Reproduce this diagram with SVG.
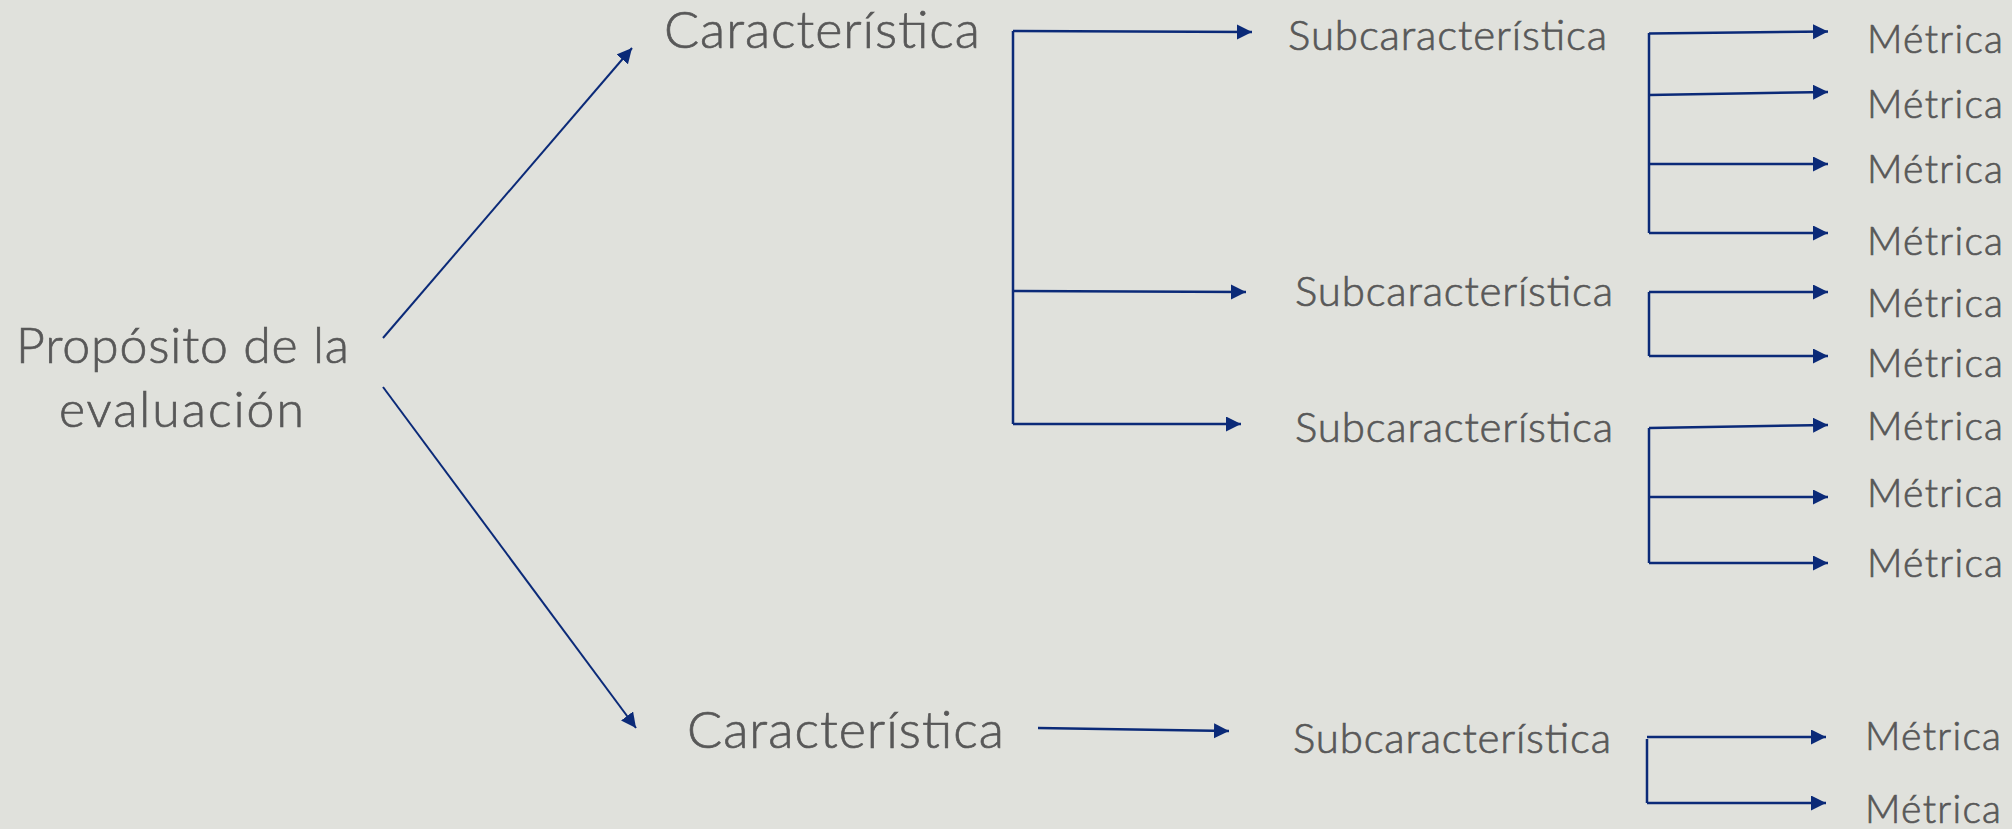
<svg xmlns="http://www.w3.org/2000/svg" width="2012" height="829" viewBox="0 0 2012 829">
<defs>
<style>
text{font-family:Lato,"Liberation Sans",sans-serif;font-weight:300;fill:#585858;stroke:#585858;stroke-width:0.7}
.main{font-size:52px}
.root{font-size:50px}
.sub{font-size:42px}
.met{font-size:39px}
.c line,.c path{stroke:#0b2a78;stroke-width:2.5;fill:none}
.c .d{stroke-width:2}
</style>
<marker id="ah" markerUnits="userSpaceOnUse" markerWidth="16" markerHeight="16" refX="15" refY="7.5" orient="auto">
<path d="M0,0 L15,7.5 L0,15 Z" fill="#0b2a78"/>
</marker>
</defs>
<rect width="2012" height="829" fill="#e0e1dc"/>
<g class="c" id="connectors">
<line class="d" x1="383" y1="338" x2="632" y2="48" marker-end="url(#ah)"/>
<line class="d" x1="383" y1="387" x2="636" y2="728" marker-end="url(#ah)"/>
<line x1="1013" y1="31" x2="1013" y2="424"/>
<line x1="1013" y1="31" x2="1252" y2="32" marker-end="url(#ah)"/>
<line x1="1013" y1="291" x2="1246" y2="292" marker-end="url(#ah)"/>
<line x1="1013" y1="424" x2="1241" y2="424" marker-end="url(#ah)"/>
<line x1="1038" y1="728" x2="1229" y2="731" marker-end="url(#ah)"/>
<line x1="1649" y1="33" x2="1649" y2="233"/>
<line x1="1649" y1="33.5" x2="1828" y2="31.5" marker-end="url(#ah)"/>
<line x1="1649" y1="95" x2="1828" y2="92" marker-end="url(#ah)"/>
<line x1="1649" y1="164" x2="1828" y2="164" marker-end="url(#ah)"/>
<line x1="1649" y1="233" x2="1828" y2="233" marker-end="url(#ah)"/>
<line x1="1649" y1="292" x2="1649" y2="356"/>
<line x1="1649" y1="292" x2="1828" y2="292" marker-end="url(#ah)"/>
<line x1="1649" y1="356" x2="1828" y2="356" marker-end="url(#ah)"/>
<line x1="1649" y1="428" x2="1649" y2="563"/>
<line x1="1649" y1="428" x2="1828" y2="425" marker-end="url(#ah)"/>
<line x1="1649" y1="497" x2="1828" y2="497" marker-end="url(#ah)"/>
<line x1="1649" y1="563" x2="1828" y2="563" marker-end="url(#ah)"/>
<line x1="1647" y1="737" x2="1826" y2="737" marker-end="url(#ah)"/>
<line x1="1647" y1="739" x2="1647" y2="803"/>
<line x1="1647" y1="803" x2="1826" y2="803" marker-end="url(#ah)"/>
</g>
<g id="root"><text class="root" x="16" y="363" textLength="333" lengthAdjust="spacing">Propósito de la</text><text class="root" x="59" y="427" textLength="245" lengthAdjust="spacing">evaluación</text></g>
<g id="car1"><text class="main" x="664" y="48" textLength="316" lengthAdjust="spacing">Característica</text></g>
<g id="car2"><text class="main" x="687" y="748" textLength="317" lengthAdjust="spacing">Característica</text></g>
<g id="sub1"><text class="sub" x="1288" y="50" textLength="319" lengthAdjust="spacing">Subcaracterística</text></g>
<g id="sub2"><text class="sub" x="1295" y="306" textLength="318" lengthAdjust="spacing">Subcaracterística</text></g>
<g id="sub3"><text class="sub" x="1295" y="442" textLength="318" lengthAdjust="spacing">Subcaracterística</text></g>
<g id="sub4"><text class="sub" x="1293" y="753" textLength="318" lengthAdjust="spacing">Subcaracterística</text></g>
<g id="m1"><text class="met" x="1867" y="53" textLength="136" lengthAdjust="spacing">Métrica</text></g>
<g id="m2"><text class="met" x="1867" y="118" textLength="136" lengthAdjust="spacing">Métrica</text></g>
<g id="m3"><text class="met" x="1867" y="183" textLength="136" lengthAdjust="spacing">Métrica</text></g>
<g id="m4"><text class="met" x="1867" y="255" textLength="136" lengthAdjust="spacing">Métrica</text></g>
<g id="m5"><text class="met" x="1867" y="317" textLength="136" lengthAdjust="spacing">Métrica</text></g>
<g id="m6"><text class="met" x="1867" y="377" textLength="136" lengthAdjust="spacing">Métrica</text></g>
<g id="m7"><text class="met" x="1867" y="440" textLength="136" lengthAdjust="spacing">Métrica</text></g>
<g id="m8"><text class="met" x="1867" y="507" textLength="136" lengthAdjust="spacing">Métrica</text></g>
<g id="m9"><text class="met" x="1867" y="577" textLength="136" lengthAdjust="spacing">Métrica</text></g>
<g id="m10"><text class="met" x="1865" y="750" textLength="136" lengthAdjust="spacing">Métrica</text></g>
<g id="m11"><text class="met" x="1865" y="823" textLength="136" lengthAdjust="spacing">Métrica</text></g>
</svg>
